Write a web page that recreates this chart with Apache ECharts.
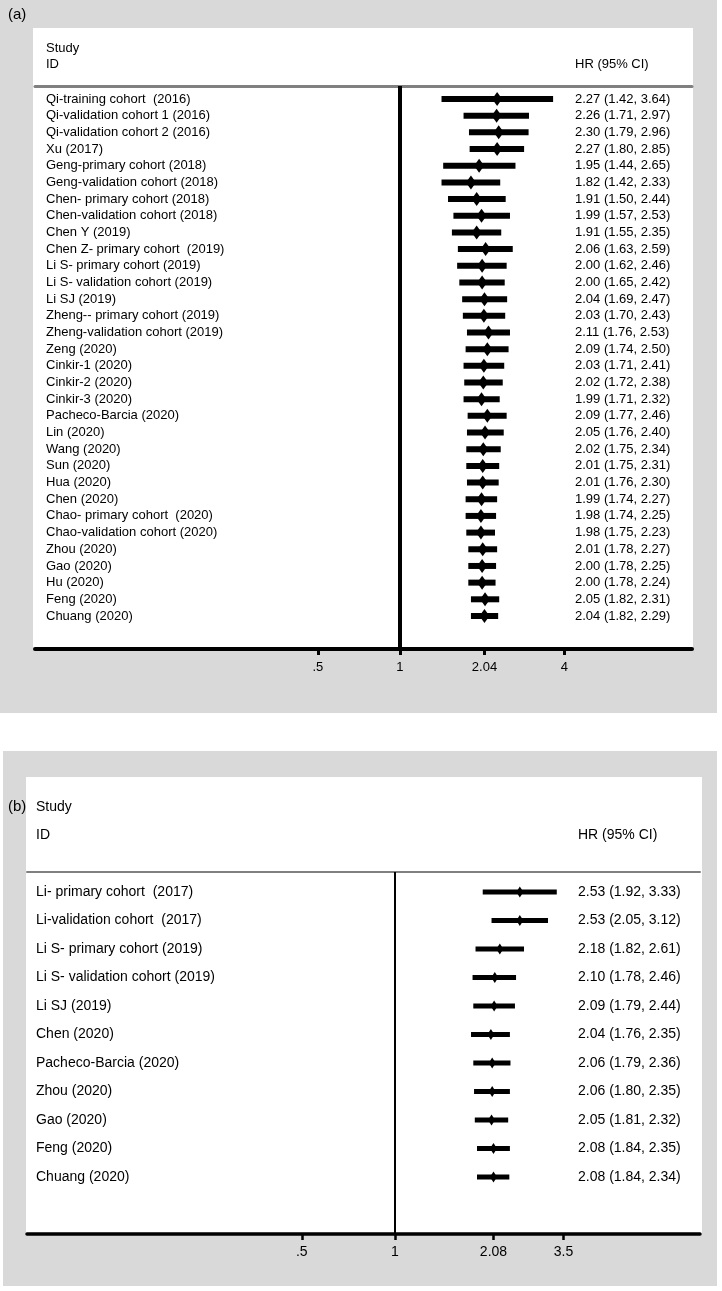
<!DOCTYPE html>
<html><head><meta charset="utf-8">
<script src="https://cdn.jsdelivr.net/npm/echarts@6/dist/echarts.min.js"></script>
<style>html,body{margin:0;padding:0;background:#fff}#c{width:722px;height:1291px}</style>
</head><body><div id="c"></div>
<script>
// ---------- Panel (a) data ----------
const studiesA = [
  'Qi-training cohort  (2016)', 'Qi-validation cohort 1 (2016)', 'Qi-validation cohort 2 (2016)', 'Xu (2017)',
  'Geng-primary cohort (2018)', 'Geng-validation cohort (2018)', 'Chen- primary cohort (2018)', 'Chen-validation cohort (2018)',
  'Chen Y (2019)', 'Chen Z- primary cohort  (2019)', 'Li S- primary cohort (2019)', 'Li S- validation cohort (2019)',
  'Li SJ (2019)', 'Zheng-- primary cohort (2019)', 'Zheng-validation cohort (2019)', 'Zeng (2020)',
  'Cinkir-1 (2020)', 'Cinkir-2 (2020)', 'Cinkir-3 (2020)', 'Pacheco-Barcia (2020)',
  'Lin (2020)', 'Wang (2020)', 'Sun (2020)', 'Hua (2020)',
  'Chen (2020)', 'Chao- primary cohort  (2020)', 'Chao-validation cohort (2020)', 'Zhou (2020)',
  'Gao (2020)', 'Hu (2020)', 'Feng (2020)', 'Chuang (2020)'
];
const hrA = [2.27, 2.26, 2.30, 2.27, 1.95, 1.82, 1.91, 1.99, 1.91, 2.06, 2.00, 2.00, 2.04, 2.03, 2.11, 2.09,
             2.03, 2.02, 1.99, 2.09, 2.05, 2.02, 2.01, 2.01, 1.99, 1.98, 1.98, 2.01, 2.00, 2.00, 2.05, 2.04];
const loA = [1.42, 1.71, 1.79, 1.80, 1.44, 1.42, 1.50, 1.57, 1.55, 1.63, 1.62, 1.65, 1.69, 1.70, 1.76, 1.74,
             1.71, 1.72, 1.71, 1.77, 1.76, 1.75, 1.75, 1.76, 1.74, 1.74, 1.75, 1.78, 1.78, 1.78, 1.82, 1.82];
const hiA = [3.64, 2.97, 2.96, 2.85, 2.65, 2.33, 2.44, 2.53, 2.35, 2.59, 2.46, 2.42, 2.47, 2.43, 2.53, 2.50,
             2.41, 2.38, 2.32, 2.46, 2.40, 2.34, 2.31, 2.30, 2.27, 2.25, 2.23, 2.27, 2.25, 2.24, 2.31, 2.29];
const tickValsA = [0.5, 1, 2.04, 4];
const tickLabelsA = ['.5', '1', '2.04', '4'];

// ---------- Panel (b) data ----------
const studiesB = [
  'Li- primary cohort  (2017)', 'Li-validation cohort  (2017)', 'Li S- primary cohort (2019)', 'Li S- validation cohort (2019)',
  'Li SJ (2019)', 'Chen (2020)', 'Pacheco-Barcia (2020)', 'Zhou (2020)', 'Gao (2020)', 'Feng (2020)', 'Chuang (2020)'
];
const hrB = [2.53, 2.53, 2.18, 2.10, 2.09, 2.04, 2.06, 2.06, 2.05, 2.08, 2.08];
const loB = [1.92, 2.05, 1.82, 1.78, 1.79, 1.76, 1.79, 1.80, 1.81, 1.84, 1.84];
const hiB = [3.33, 3.12, 2.61, 2.46, 2.44, 2.35, 2.36, 2.35, 2.32, 2.35, 2.34];
const tickValsB = [0.5, 1, 2.08, 3.5];
const tickLabelsB = ['.5', '1', '2.08', '3.5'];

const nullValue = 1;
const FONT = '"Liberation Sans", Arial, Helvetica, sans-serif';
const LOGBASE = 1.5;

function ciText(h, l, u) { return h.toFixed(2) + ' (' + l.toFixed(2) + ', ' + u.toFixed(2) + ')'; }
function tickFormatter(vals, labels) {
  return function (v) {
    for (let i = 0; i < vals.length; i++) {
      if (Math.abs(vals[i] - v) < 1e-6 || Math.abs(vals[i] - Math.pow(LOGBASE, v)) < 1e-6) return labels[i];
    }
    return '';
  };
}

const P = {
  a: { left: 35, top: 86, width: 657, height: 563, xmin: 0.046, xmax: 11.75, ymin: -0.78, ymax: 32.98,
       fs: 13, labelMargin: 11, hrMargin: 117, barH: 6, diamond: [10, 14], refW: 4, axisW: 4, tickW: 3, sepW: 3, tickMargin: 12 },
  b: { left: 27, top: 872, width: 673, height: 362, xmin: 0.0648, xmax: 9.66, ymin: -0.70, ymax: 12.0,
       fs: 14, labelMargin: 9, hrMargin: 122, barH: 5, diamond: [7, 11], refW: 2, axisW: 3.5, tickW: 2.5, sepW: 2, tickMargin: 11 }
};

const grids = [], xAxes = [], yAxes = [], series = [];
function addPanel(cfg, studies, hr, lo, hi, tvals, tlabels) {
  const gi = grids.length;
  grids.push({ left: cfg.left, top: cfg.top, width: cfg.width, height: cfg.height, containLabel: false, outerBoundsMode: 'none' });
  const xi = xAxes.length;
  xAxes.push({
    type: 'log', logBase: LOGBASE, gridIndex: gi, position: 'bottom', min: cfg.xmin, max: cfg.xmax,
    axisLine: { show: true, onZero: false, lineStyle: { color: '#000', width: cfg.axisW } },
    axisTick: { show: true, customValues: tvals, length: 6, inside: false, lineStyle: { color: '#000', width: cfg.tickW } },
    axisLabel: { show: true, customValues: tvals, formatter: tickFormatter(tvals, tlabels), margin: cfg.tickMargin,
                 color: '#000', fontSize: cfg.fs, fontFamily: FONT },
    splitLine: { show: false }, minorTick: { show: false }, minorSplitLine: { show: false }
  });
  xAxes.push({
    type: 'value', gridIndex: gi, position: 'top', min: 0, max: 1,
    axisLine: { show: true, onZero: false, lineStyle: { color: '#808080', width: cfg.sepW } },
    axisTick: { show: false }, axisLabel: { show: false }, splitLine: { show: false }
  });
  const idx = studies.map((s, i) => i);
  const yi = yAxes.length;
  yAxes.push({
    type: 'value', gridIndex: gi, position: 'left', inverse: true, min: cfg.ymin, max: cfg.ymax,
    axisLine: { show: false, onZero: false }, axisTick: { show: false }, splitLine: { show: false },
    axisLabel: { show: true, inside: true, margin: cfg.labelMargin, customValues: idx, align: 'left',
                 formatter: v => studies[Math.round(v)] || '', color: '#000', fontSize: cfg.fs, fontFamily: FONT }
  });
  yAxes.push({
    type: 'value', gridIndex: gi, position: 'right', inverse: true, min: cfg.ymin, max: cfg.ymax,
    axisLine: { show: false, onZero: false }, axisTick: { show: false }, splitLine: { show: false },
    axisLabel: { show: true, inside: true, margin: cfg.hrMargin, customValues: idx, align: 'left',
                 formatter: v => { const i = Math.round(v); return hr[i] !== undefined ? ciText(hr[i], lo[i], hi[i]) : ''; },
                 color: '#000', fontSize: cfg.fs, fontFamily: FONT }
  });
  series.push({
    type: 'custom', xAxisIndex: xi, yAxisIndex: yi,
    data: studies.map((s, i) => [lo[i], hi[i], i]),
    encode: { x: [0, 1], y: 2 },
    renderItem: function (params, api) {
      const a = api.coord([api.value(0), api.value(2)]);
      const b = api.coord([api.value(1), api.value(2)]);
      return { type: 'rect', shape: { x: a[0], y: a[1] - cfg.barH / 2, width: b[0] - a[0], height: cfg.barH },
               style: { fill: '#000' } };
    },
    silent: true, z: 3
  });
  series.push({
    type: 'scatter', xAxisIndex: xi, yAxisIndex: yi,
    data: studies.map((s, i) => [hr[i], i]),
    symbol: 'diamond', symbolSize: cfg.diamond,
    itemStyle: { color: '#000', opacity: 1 }, silent: true, z: 4,
    markLine: { symbol: 'none', silent: true, label: { show: false },
                lineStyle: { color: '#000', width: cfg.refW, type: 'solid' },
                data: [{ xAxis: nullValue }] }
  });
}
addPanel(P.a, studiesA, hrA, loA, hiA, tickValsA, tickLabelsA);
addPanel(P.b, studiesB, hrB, loB, hiB, tickValsB, tickLabelsB);

function txt(t, x, y, fs) {
  return { type: 'text', x: x, y: y, z: 10, silent: true,
           style: { text: t, fill: '#000', font: fs + 'px ' + FONT, align: 'left', verticalAlign: 'middle',
                    textAlign: 'left', textVerticalAlign: 'middle' } };
}
const GRAY = '#d9d9d9';
const graphics = [
  { type: 'rect', z: -10, silent: true, shape: { x: 0, y: 0, width: 717, height: 713 }, style: { fill: GRAY } },
  { type: 'rect', z: -9, silent: true, shape: { x: 33, y: 28, width: 660, height: 621 }, style: { fill: '#fff' } },
  { type: 'rect', z: -10, silent: true, shape: { x: 3, y: 751, width: 714, height: 535 }, style: { fill: GRAY } },
  { type: 'rect', z: -9, silent: true, shape: { x: 26, y: 777, width: 676, height: 457 }, style: { fill: '#fff' } },
  txt('(a)', 8, 15, 15), txt('Study', 46, 48, 13), txt('ID', 46, 64, 13), txt('HR (95% CI)', 575, 64, 13),
  txt('(b)', 8, 807, 15), txt('Study', 36, 807, 14), txt('ID', 36, 835, 14), txt('HR (95% CI)', 578, 835, 14)
];

const chart = echarts.init(document.getElementById('c'), null, { renderer: 'canvas' });
chart.setOption({
  animation: false,
  backgroundColor: '#fff',
  textStyle: { fontFamily: FONT },
  graphic: { elements: graphics },
  grid: grids, xAxis: xAxes, yAxis: yAxes, series: series
});
</script></body></html>
